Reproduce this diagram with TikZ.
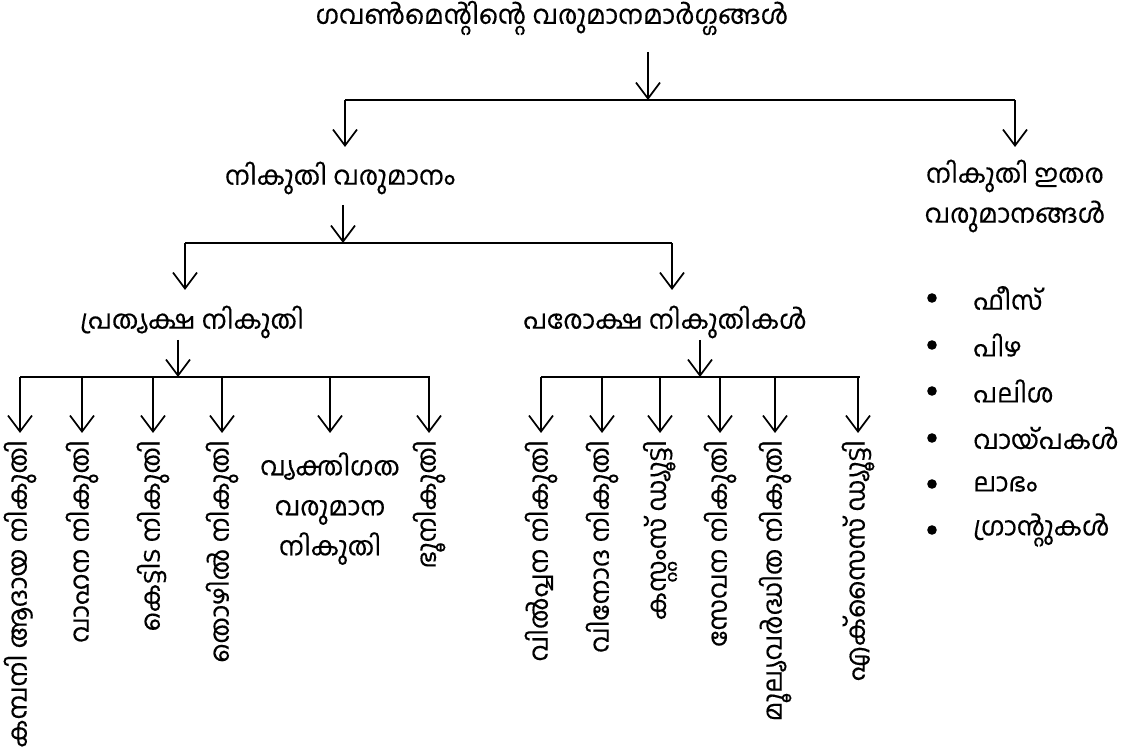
\documentclass[tikz,border=0pt]{standalone}
\usepackage{fontspec}
\newfontfamily\ml[Script=Malayalam,FakeBold=0.35]{Hind Kochi}
\usetikzlibrary{arrows.meta}
\begin{document}
\begin{tikzpicture}[x=0.75pt,y=-0.75pt,
  txt/.style={font=\ml\fontsize{19.5}{30}\selectfont, inner sep=0pt, align=center},
  vlab/.style={txt, rotate=90, anchor=east},
  arr/.style={-{Straight Barb[length=12pt,width=18pt,line width=1.3pt]}, line width=1.3pt},
  bar/.style={line width=1.6pt}]
\useasboundingbox (0,0) rectangle (1122,755);

% titles
\node[txt] (root) at (552,18) {ഗവൺമെന്റിന്റെ വരുമാനമാർഗ്ഗങ്ങൾ};
\node[txt] (tax) at (340,178) {നികുതി വരുമാനം};
\node[txt] (nontax) at (1015,196) {നികുതി ഇതര\\വരുമാനങ്ങൾ};
\node[txt] (direct) at (192,322) {പ്രത്യക്ഷ നികുതി};
\node[txt] (indirect) at (665,322) {പരോക്ഷ നികുതികൾ};

% level 0
\coordinate (a0) at (648,52);
\coordinate (j0) at (648,100);
\coordinate (b0l) at (345,100);
\coordinate (b0r) at (1015,100);
\coordinate (e0l) at (345,147);
\coordinate (e0r) at (1015,147);
\draw[bar] (b0l) -- (b0r);
\draw[arr] (a0) -- (j0);
\draw[arr] (b0l) -- (e0l);
\draw[arr] (b0r) -- (e0r);

% level 1
\coordinate (a1) at (343,205);
\coordinate (j1) at (343,243);
\coordinate (b1l) at (185,243);
\coordinate (b1r) at (672,243);
\coordinate (e1l) at (185,290);
\coordinate (e1r) at (672,290);
\draw[bar] (b1l) -- (b1r);
\draw[arr] (a1) -- (j1);
\draw[arr] (b1l) -- (e1l);
\draw[arr] (b1r) -- (e1r);

% level 2 left
\coordinate (a2) at (178,340);
\coordinate (j2) at (178,377);
\coordinate (b2l) at (20,377);
\coordinate (b2r) at (430,377);
\draw[bar] (b2l) -- (b2r);
\draw[arr] (a2) -- (j2);

% level 2 right
\coordinate (a3) at (700,340);
\coordinate (j3) at (700,377);
\coordinate (b3l) at (541,377);
\coordinate (b3r) at (860,377);
\draw[bar] (b3l) -- (b3r);
\draw[arr] (a3) -- (j3);

% leaves left
\foreach \x/\n/\t in {20/l1/കമ്പനി ആദായ നികുതി, 82/l2/വാഹന നികുതി, 153/l3/കെട്ടിട നികുതി, 222/l4/തൊഴിൽ നികുതി, 429/l6/ഭൂനികുതി}{
  \coordinate (s\n) at (\x,377);
  \coordinate (e\n) at (\x,433);
  \draw[arr] (s\n) -- (e\n);
  \node[vlab] (\n) at (\x,440) {\t};
}
\coordinate (sl5) at (330,377);
\coordinate (el5) at (330,433);
\draw[arr] (sl5) -- (el5);
\node[txt, anchor=north] (l5) at (330,452) {വ്യക്തിഗത\\വരുമാന\\നികുതി};

% leaves right
\foreach \x/\n/\t in {541/r1/വിൽപ്പന നികുതി, 602/r2/വിനോദ നികുതി, 660/r3/കസ്റ്റംസ് ഡ്യൂട്ടി, 720/r4/സേവന നികുതി, 775/r5/മൂല്യവർദ്ധിത നികുതി, 858/r6/എക്സൈസ് ഡ്യൂട്ടി}{
  \coordinate (s\n) at (\x,377);
  \coordinate (e\n) at (\x,433);
  \draw[arr] (s\n) -- (e\n);
  \node[vlab] (\n) at (\x,440) {\t};
}

% non-tax bullets
\foreach \y/\n/\t in {298/n1/ഫീസ്, 345/n2/പിഴ, 391/n3/പലിശ, 438/n4/വായ്പകൾ, 484/n5/ലാഭം, 530/n6/ഗ്രാന്റുകൾ}{
  \fill (932,\y) circle[radius=3.6pt];
  \node[txt, anchor=west] (\n) at (973,\y) {\t};
}
\end{tikzpicture}
\end{document}
